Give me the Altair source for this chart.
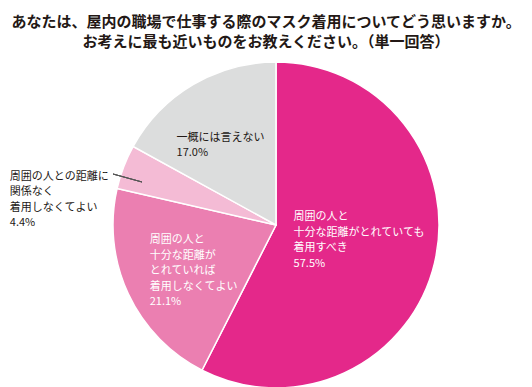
import altair as alt
import pandas as pd

# ---- data ----
categories = ["十分な距離でも着用すべき", "十分な距離なら不要", "距離に関係なく不要", "一概には言えない"]
values = [57.5, 21.1, 4.4, 17.0]
label_texts = [
    "周囲の人と\n十分な距離がとれていても\n着用すべき",
    "周囲の人と\n十分な距離が\nとれていれば\n着用しなくてよい",
    "周囲の人との距離に\n関係なく\n着用しなくてよい",
    "一概には言えない",
]
colors = ["#E4288A", "#EB7FB1", "#F4BBD5", "#DCDDDD"]
title_lines = [
    "あなたは、屋内の職場で仕事する際のマスク着用についてどう思いますか。",
    "お考えに最も近いものをお教えください。（単一回答）",
]

df = pd.DataFrame({
    "cat": categories,
    "value": values,
    "k": list(range(len(values))),
    "label": [f"{t}\n{v:.1f}%" for t, v in zip(label_texts, values)],
})

FONT = "Noto Sans CJK JP"
CX, CY, R = 268, 173, 163

base = alt.Chart(df).encode(
    theta=alt.Theta("value:Q", stack=True),
    order=alt.Order("k:Q"),
)

arcs = base.mark_arc(outerRadius=R, stroke="white", strokeWidth=1.5).encode(
    x=alt.value(CX), y=alt.value(CY),
    color=alt.Color("cat:N", scale=alt.Scale(domain=categories, range=colors), legend=None),
)

# label placement: (radius, dx, dy, color)
placements = [
    (86, -66, -28, "white"),
    (93, -42, -24, "white"),
    (180, -98, 16, "#231815"),
    (99, -49, -2, "#231815"),
]

layers = [arcs]
for i, (rad, dx, dy, col) in enumerate(placements):
    t = base.transform_calculate(
        t=f"datum.k == {i} ? datum.label : ''"
    ).mark_text(
        align="left", baseline="middle", lineBreak="\n", lineHeight=15.5,
        font=FONT, fontSize=11, color=col, dx=dx, dy=dy,
    ).encode(
        x=alt.value(CX), y=alt.value(CY),
        radius=alt.value(rad),
        text="t:N",
        detail="cat:N",
    )
    layers.append(t)

leader = alt.Chart(df).mark_rule(color="#555555", strokeWidth=0.8).encode(
    x=alt.value(105), y=alt.value(122), x2=alt.value(134), y2=alt.value(130)
)
layers.append(leader)

chart = alt.layer(*layers).properties(
    width=516, height=344,
    autosize=alt.AutoSizeParams(type="none"),
    padding={"left": 0, "top": 44, "right": 0, "bottom": 0},
    title=alt.TitleParams(
        text=title_lines, anchor="middle", frame="group",
        font=FONT, fontSize=15, fontWeight="bold", color="#231815",
        lineHeight=20, offset=2,
    ),
).configure_view(stroke=None)

chart.save("out.html", embed_options={"renderer": "svg", "actions": False})
